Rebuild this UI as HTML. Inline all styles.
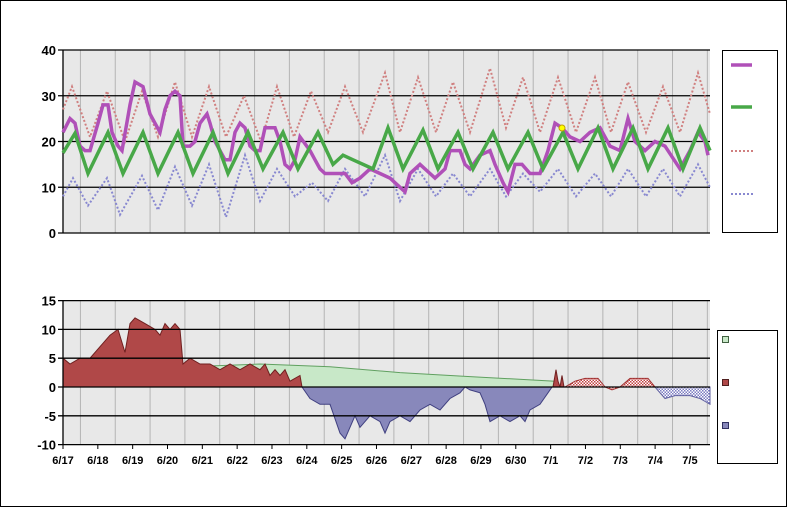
<!DOCTYPE html>
<html><head><meta charset="utf-8"><style>
body{margin:0;background:#fff}
svg{display:block;font-family:"Liberation Sans",Arial,sans-serif}
</style></head><body>
<svg id="s" width="787" height="507" xmlns="http://www.w3.org/2000/svg">
<defs>
<pattern id="hr" width="3" height="3" patternUnits="userSpaceOnUse"><rect width="3" height="3" fill="#fff"/><rect width="1.5" height="1.5" fill="#c04040"/><rect x="1.5" y="1.5" width="1.5" height="1.5" fill="#c04040"/></pattern>
<pattern id="hb" width="3" height="3" patternUnits="userSpaceOnUse"><rect width="3" height="3" fill="#fff"/><rect width="1.5" height="1.5" fill="#7b7bc0"/><rect x="1.5" y="1.5" width="1.5" height="1.5" fill="#7b7bc0"/></pattern>
</defs>
<rect x="0.5" y="0.5" width="786" height="506" fill="#fff" stroke="#000"/>
<g id="g"></g>
</svg>
<script>
var g=document.getElementById('g'),h='';
function Y1(v){return 233-v*4.575}
function Y2(v){return 387-v*5.76}
// top plot
h+='<rect x="63" y="50" width="647" height="183" fill="#e8e8e8"/>';
for(var d=0;d<19;d++){var x=63+(d+0.5)*34.83;if(x<710)h+='<line x1="'+x+'" y1="50" x2="'+x+'" y2="233" stroke="#b4b4b4"/>';
 var x2=63+d*34.83;h+='<line x1="'+x+'" y1="300" x2="'+x+'" y2="444" stroke="#b4b4b4"/>';}
// bottom bg
h=h.replace('<line','<rect x="63" y="300" width="647" height="144" fill="#e8e8e8"/><line');
for(var v=0;v<=40;v+=10){var y=Y1(v);h+='<line x1="58" y1="'+y+'" x2="710" y2="'+y+'" stroke="#000" stroke-width="1.3"/><text x="56" y="'+(y+5)+'" text-anchor="end" font-size="13" font-weight="bold">'+v+'</text>';}
h+='<line x1="63" y1="50" x2="63" y2="233" stroke="#000" stroke-width="1.3"/>';
function pl(pts,Y){return pts.map(function(p){return p[0]+','+Y(p[1]).toFixed(1)}).join(' ')}
var red=[[63,27],[72,32],[90,21],[107,31],[125,20],[142,31],[158,21],[175,33],[192,21],[209,32],[226,21],[244,30],[261,20],[277,32],[294,21],[311,31],[328,22],[345,32],[363,22],[385,35],[400,22],[418,34],[436,22],[453,33],[470,22],[490,36],[506,23],[523,34],[540,22],[558,34],[576,22],[595,34],[611,22],[628,33],[646,22],[663,32],[680,22],[698,35],[710,26]];
var blu=[[63,8],[73,12],[88,6],[107,12],[120,4],[142,12.5],[158,5],[175,14.5],[192,6],[209,15],[226,3.5],[245,17],[260,7],[277,14],[295,8],[312,11],[328,7],[345,14],[365,8],[385,17],[400,7],[418,14],[436,8],[453,13],[470,8],[490,14],[506,8],[523,13],[540,9],[558,14],[576,8],[595,13],[611,8],[628,14],[646,8],[663,14],[680,8],[698,15],[710,10]];
var grn=[[63,17.5],[75,21.8],[88,13],[108,22],[123,13],[143,22],[158,13],[178,22],[193,13],[213,22],[228,13],[248,22],[263,14],[283,22],[298,14],[318,22],[333,15],[343,17],[353,16],[373,14],[388,23],[403,14],[423,22.5],[438,14],[458,22],[473,14],[493,22],[508,14],[528,22],[543,14],[563,22],[578,14],[598,23],[613,14],[633,23],[648,14],[668,23],[683,14],[700,23],[710,18]];
var pur=[[63,22],[70,25],[75,24],[80,19],[85,18],[90,18],[98,24],[103,28],[108,28],[112,22],[118,19],[122,18],[130,28],[135,33],[143,32],[150,26],[155,24],[160,22],[165,27],[170,30],[175,31],[180,30],[183,19],[190,19],[195,20],[200,24],[207,26],[210,24],[215,20],[220,18],[225,16],[230,16],[235,22],[240,24],[245,23],[250,19],[255,18],[260,18],[265,23],[275,23],[280,20],[285,15],[290,14],[295,16],[300,21],[310,18],[315,16],[320,14],[325,13],[335,13],[345,13],[352,11],[360,12],[370,14],[380,13],[390,12],[400,10],[405,9],[410,13],[420,15],[430,13],[435,12],[445,14],[450,18],[460,18],[465,15],[470,14],[480,17],[490,18],[495,15],[503,11],[508,9],[515,15],[522,15],[530,13],[540,13],[548,18],[555,24],[562,23],[570,21],[580,20],[590,22],[600,23],[610,19],[620,18],[628,25],[635,20],[645,18],[655,20],[665,19],[680,14],[690,18],[698,22],[705,20],[708,17]];
h+='<polyline points="'+pl(red,Y1)+'" fill="none" stroke="#d08080" stroke-width="2" stroke-dasharray="2,2"/>';
h+='<polyline points="'+pl(blu,Y1)+'" fill="none" stroke="#8888d0" stroke-width="2" stroke-dasharray="2,2"/>';
h+='<polyline points="'+pl(pur,Y1)+'" fill="none" stroke="#b050b8" stroke-width="3.5"/>';
h+='<polyline points="'+pl(grn,Y1)+'" fill="none" stroke="#48a848" stroke-width="3.5"/>';
h+='<circle cx="562" cy="128" r="3" fill="#ffff00" stroke="#c0a000"/>';
// bottom
var gr=[[63,1.5],[120,2.5],[190,3.5],[260,4],[330,3.5],[400,2.5],[470,1.8],[555,1]];
h+='<polygon points="63,387 '+pl(gr,Y2)+' 555,387" fill="#c8e8c8" stroke="#60a060"/>';
var rd=[[63,5],[70,4],[80,5],[90,5],[100,7],[110,9],[118,10],[125,6],[130,11],[135,12],[145,11],[155,10],[160,9],[165,11],[170,10],[175,11],[180,10],[183,4],[190,5],[200,4],[210,4],[220,3],[230,4],[240,3],[250,4],[260,3],[265,4],[270,2],[275,3],[280,2],[285,3],[290,1],[300,2],[302,0]];
h+='<polygon points="63,387 '+pl(rd,Y2)+'" fill="#b04848" stroke="#702020"/>';
var bl=[[302,0],[310,-2],[320,-3],[330,-3],[340,-8],[345,-9],[350,-7],[355,-5],[360,-7],[365,-6],[370,-5],[380,-6],[385,-8],[390,-6],[400,-5],[410,-6],[420,-4],[430,-3],[440,-4],[450,-2],[460,-1],[465,0],[470,-0.5],[480,-1],[485,-3],[490,-6],[500,-5],[510,-6],[520,-5],[525,-6],[530,-4],[540,-3],[548,-1],[552,0]];
h+='<polygon points="'+pl(bl,Y2)+'" fill="#8888bb" stroke="#404080"/>';
h+='<polygon points="'+pl([[553,0],[556,3],[558,1],[560,0],[562,2],[564,0]],Y2)+'" fill="#b04848" stroke="#702020"/>';
h+='<polygon points="'+pl([[565,0],[575,1],[585,1.5],[598,1.5],[605,0],[612,-0.5],[620,0],[630,1.5],[648,1.5],[655,0]],Y2)+'" fill="url(#hr)" stroke="#a03030"/>';
h+='<polygon points="'+pl([[655,0],[665,-2],[675,-1.5],[690,-1.5],[700,-2],[710,-3],[710,0]],Y2)+'" fill="url(#hb)" stroke="#6060a0"/>';
for(var v=-10;v<=15;v+=5){var y=Y2(v);h+='<line x1="58" y1="'+y+'" x2="710" y2="'+y+'" stroke="#000" stroke-width="1.3"/><text x="56" y="'+(y+5)+'" text-anchor="end" font-size="13" font-weight="bold">'+v+'</text>';}
h+='<line x1="63" y1="300" x2="63" y2="444" stroke="#000" stroke-width="1.3"/>';
var lab=['6/17','6/18','6/19','6/20','6/21','6/22','6/23','6/24','6/25','6/26','6/27','6/28','6/29','6/30','7/1','7/2','7/3','7/4','7/5'];
for(var i=0;i<19;i++){var x=63+i*34.83;h+='<line x1="'+x+'" y1="444" x2="'+x+'" y2="449" stroke="#000"/><text x="'+x+'" y="464" text-anchor="middle" font-size="11" font-weight="bold">'+lab[i]+'</text>';}
// legends
h+='<rect x="722.5" y="50.5" width="55" height="182" fill="#fff" stroke="#000"/>';
h+='<line x1="731" y1="65" x2="752" y2="65" stroke="#b050b8" stroke-width="3.5"/>';
h+='<line x1="731" y1="107" x2="752" y2="107" stroke="#48a848" stroke-width="3.5"/>';
h+='<line x1="731" y1="151" x2="753" y2="151" stroke="#d08080" stroke-width="2" stroke-dasharray="2,2"/>';
h+='<line x1="731" y1="194" x2="753" y2="194" stroke="#8888d0" stroke-width="2" stroke-dasharray="2,2"/>';
h+='<rect x="717.5" y="330.5" width="60" height="133" fill="#fff" stroke="#000"/>';
h+='<rect x="722.5" y="336.5" width="6" height="6" fill="#c8e8c8" stroke="#406040"/>';
h+='<rect x="722.5" y="379.5" width="6" height="6" fill="#b04848" stroke="#502020"/>';
h+='<rect x="722.5" y="422.5" width="6" height="6" fill="#8888bb" stroke="#303060"/>';
g.innerHTML=h;
</script>
</body></html>
